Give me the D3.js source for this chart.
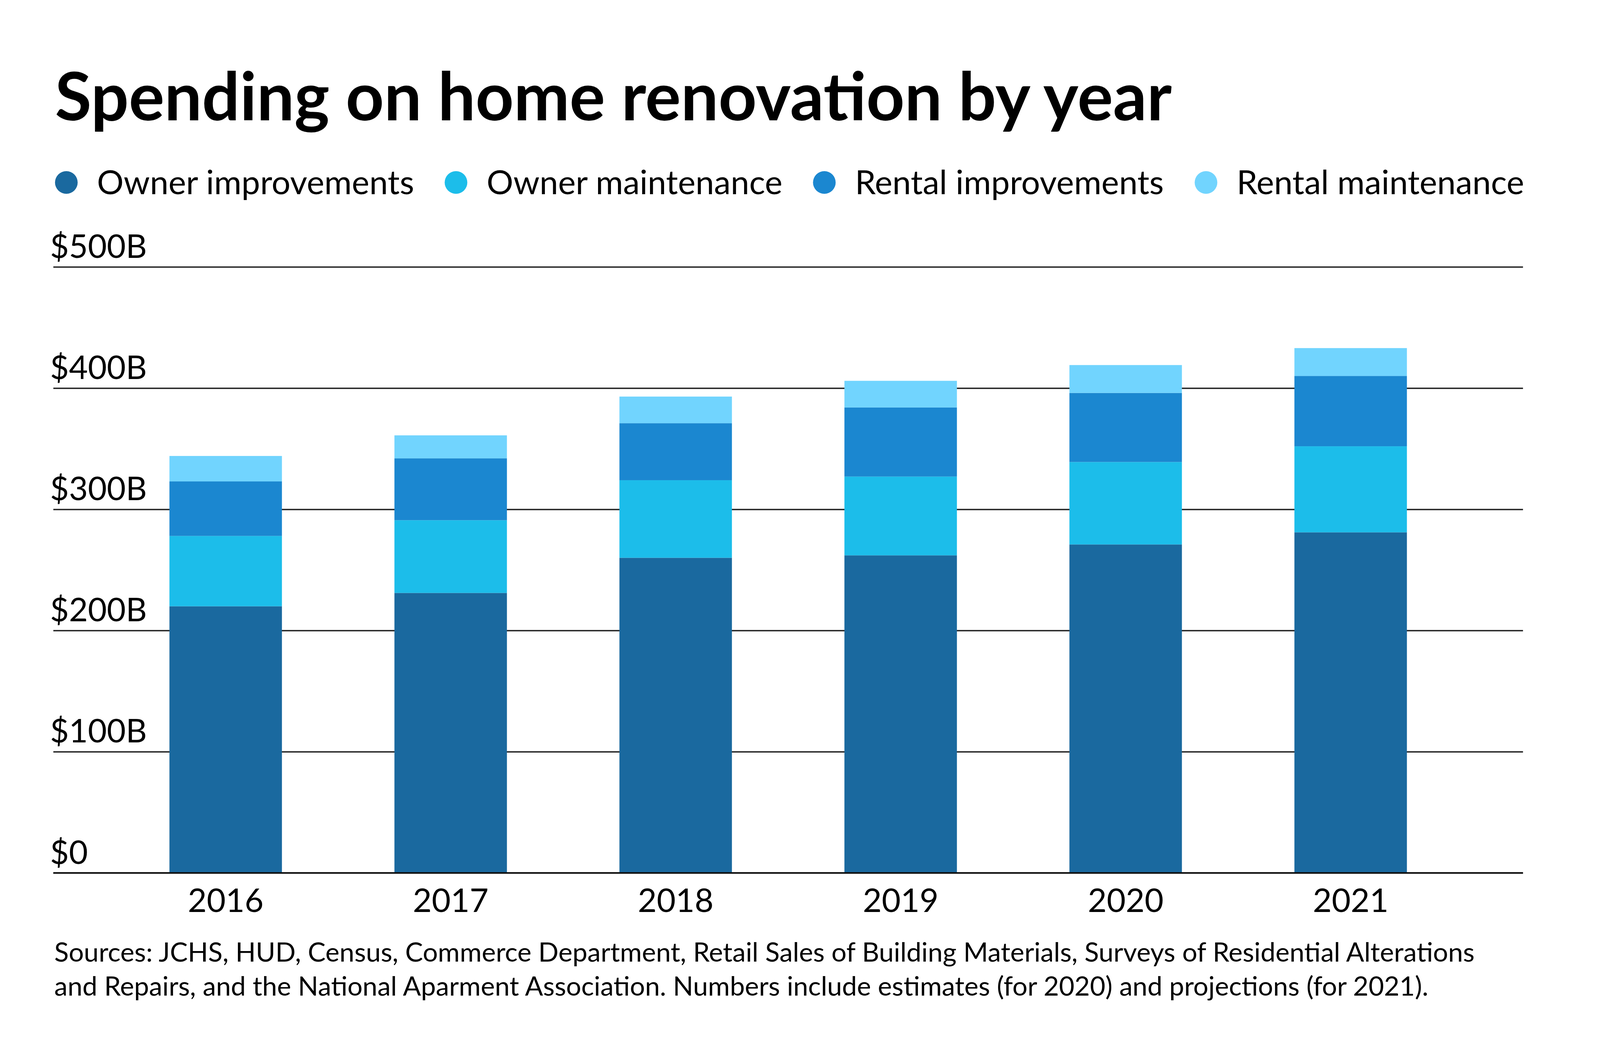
<!DOCTYPE html>
<html>
<head>
<meta charset="utf-8">
<script src="https://cdn.jsdelivr.net/npm/d3@7"></script>
<style>
  html, body { margin: 0; padding: 0; background: #fff; overflow: hidden; }
  svg { display: block; }
  text { font-family: Lato, "Open Sans", sans-serif; fill: #000; }
</style>
</head>
<body>
<div id="chart"></div>
<script>
// data, $ billions
var years = ["2016", "2017", "2018", "2019", "2020", "2021"];
var ownerImprovements = [220, 231, 260, 262, 271, 281];
var ownerMaintenance  = [58, 60, 64, 65, 68, 71];
var rentalImprovements = [45, 51, 47, 57, 57, 58];
var rentalMaintenance = [21, 19, 22, 22, 23, 23];
var seriesNames = ["Owner improvements", "Owner maintenance", "Rental improvements", "Rental maintenance"];
var yTicks = [0, 100, 200, 300, 400, 500];
var sourceLines = [
  "Sources: JCHS, HUD, Census, Commerce Department, Retail Sales of Building Materials, Surveys of Residential Alterations",
  "and Repairs, and the National Aparment Association. Numbers include estimates (for 2020) and projections (for 2021)."
];

var colors = ["#1a699f", "#1cbdea", "#1b87d0", "#71d4fe"];

// layout is laid out on a 4800x2700 design and fitted to the window
var width = window.innerWidth, height = window.innerHeight;
var sx = width / 4800, sy = height / 2700, fs = Math.min(sx, sy);
var X = v => v * sx, Y = v => v * sy, F = v => (v * fs) + "px";

var margin = { top: Y(683), right: X(231), bottom: Y(466), left: X(160) };
var chartWidth = width - margin.left - margin.right;
var chartHeight = height - margin.top - margin.bottom;

var svg = d3.select("#chart").append("svg")
    .attr("width", width)
    .attr("height", height);

// title
svg.append("text")
    .attr("x", X(165))
    .attr("y", Y(308))
    .style("font-size", F(200))
    .style("font-weight", "700")
    .text("Spending on home renovation by year");

// legend
var legendX = [199, 1368, 2473, 3618];
var legend = svg.selectAll(".legend")
    .data(seriesNames)
    .enter()
    .append("g")
    .attr("transform", (d, i) => `translate(${X(legendX[i])}, ${Y(467)})`);

legend.append("circle")
    .attr("r", 34 * fs)
    .attr("fill", (d, i) => colors[i]);

legend.append("text")
    .attr("x", 92 * fs)
    .attr("y", 35 * fs)
    .style("font-size", F(100))
    .text(d => d);

var chartGroup = svg.append("g")
    .attr("transform", `translate(${margin.left}, ${margin.top})`);

var table = years.map(function(y, i) {
  return {
    year: y,
    "Owner improvements": ownerImprovements[i],
    "Owner maintenance": ownerMaintenance[i],
    "Rental improvements": rentalImprovements[i],
    "Rental maintenance": rentalMaintenance[i]
  };
});

var stacked = d3.stack().keys(seriesNames)(table);

var xBandScale = d3.scaleBand()
    .domain(years)
    .range([0, chartWidth])
    .paddingInner(0.5)
    .paddingOuter(0.516);

var yLinearScale = d3.scaleLinear()
    .domain([0, 500])
    .range([chartHeight, 0]);

// gridlines + labels
var leftAxis = d3.axisRight(yLinearScale)
    .tickValues(yTicks)
    .tickSize(chartWidth)
    .tickFormat(d => d === 0 ? "$0" : "$" + d + "B");

var yAxisGroup = chartGroup.append("g")
    .call(leftAxis);
yAxisGroup.select(".domain").remove();
yAxisGroup.selectAll(".tick line")
    .attr("stroke", "#222")
    .attr("stroke-width", 3.5);
yAxisGroup.selectAll(".tick text")
    .attr("x", -X(10))
    .attr("dy", -Y(24))
    .attr("text-anchor", "start")
    .style("font-size", F(98))
    .style("font-family", "Lato, 'Open Sans', sans-serif")
    .attr("fill", "#000");

// bars
chartGroup.selectAll(".layer")
    .data(stacked)
    .enter()
    .append("g")
    .attr("fill", (d, i) => colors[i])
    .selectAll("rect")
    .data(d => d)
    .enter()
    .append("rect")
    .attr("x", d => xBandScale(d.data.year))
    .attr("width", xBandScale.bandwidth())
    .attr("y", d => yLinearScale(d[1]))
    .attr("height", d => yLinearScale(d[0]) - yLinearScale(d[1]));

// baseline over bars
chartGroup.append("line")
    .attr("x1", 0)
    .attr("x2", chartWidth)
    .attr("y1", yLinearScale(0))
    .attr("y2", yLinearScale(0))
    .attr("stroke", "#111")
    .attr("stroke-width", 4);

var bottomAxis = d3.axisBottom(xBandScale).tickSize(0);
var xAxisGroup = chartGroup.append("g")
    .attr("transform", `translate(0, ${chartHeight})`)
    .call(bottomAxis);
xAxisGroup.select(".domain").remove();
xAxisGroup.selectAll(".tick text")
    .attr("y", Y(100))
    .attr("dy", 0)
    .style("font-size", F(98))
    .style("font-family", "Lato, 'Open Sans', sans-serif")
    .attr("fill", "#000");

// source note
svg.selectAll(".source")
    .data(sourceLines)
    .enter()
    .append("text")
    .attr("x", X(163))
    .attr("y", (d, i) => Y(2461 + i * 87))
    .style("font-size", F(80))
    .text(d => d);
</script>
</body>
</html>
